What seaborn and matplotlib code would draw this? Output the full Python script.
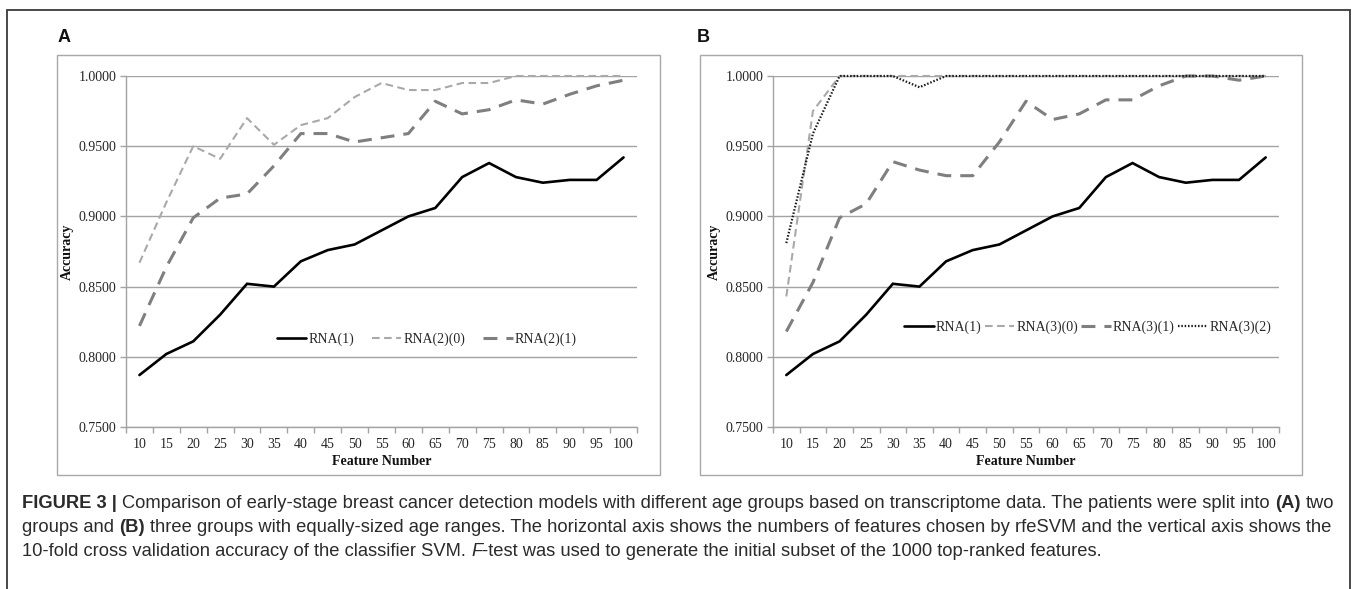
import numpy as np
import pandas as pd
import seaborn as sns
import matplotlib
matplotlib.use("Agg")
import matplotlib.pyplot as plt
from matplotlib.patches import Rectangle
from matplotlib.ticker import FixedLocator, FuncFormatter
from matplotlib import font_manager

# ---------------- data ----------------
features = [10, 15, 20, 25, 30, 35, 40, 45, 50, 55, 60, 65, 70, 75, 80, 85, 90, 95, 100]

rna1 = [0.787, 0.802, 0.811, 0.830, 0.852, 0.850, 0.868, 0.876, 0.880, 0.890,
        0.900, 0.906, 0.928, 0.938, 0.928, 0.924, 0.926, 0.926, 0.942]

rna2_0 = [0.867, 0.910, 0.950, 0.941, 0.970, 0.951, 0.965, 0.970, 0.985, 0.995,
          0.990, 0.990, 0.995, 0.995, 1.000, 1.000, 1.000, 1.000, 1.000]
rna2_1 = [0.822, 0.864, 0.899, 0.913, 0.916, 0.936, 0.959, 0.959, 0.953, 0.956,
          0.959, 0.982, 0.973, 0.976, 0.983, 0.980, 0.987, 0.993, 0.997]

rna3_0 = [0.843, 0.975, 1.000, 1.000, 1.000, 1.000, 1.000, 1.000, 1.000, 1.000,
          1.000, 1.000, 1.000, 1.000, 1.000, 1.000, 1.000, 1.000, 1.000]
rna3_1 = [0.818, 0.853, 0.899, 0.909, 0.939, 0.933, 0.929, 0.929, 0.953, 0.982,
          0.969, 0.973, 0.983, 0.983, 0.993, 1.000, 1.000, 0.997, 1.000]
rna3_2 = [0.881, 0.959, 1.000, 1.000, 1.000, 0.992, 1.000, 1.000, 1.000, 1.000,
          1.000, 1.000, 1.000, 1.000, 1.000, 1.000, 1.000, 1.000, 1.000]

y_ticks = [0.75, 0.80, 0.85, 0.90, 0.95, 1.00]

panel_a_names = ["RNA(1)", "RNA(2)(0)", "RNA(2)(1)"]
panel_a_values = [rna1, rna2_0, rna2_1]
panel_b_names = ["RNA(1)", "RNA(3)(0)", "RNA(3)(1)", "RNA(3)(2)"]
panel_b_values = [rna1, rna3_0, rna3_1, rna3_2]

# ---------------- styling ----------------
sns.set_theme(style="white")
plt.rcParams["font.family"] = ["Liberation Serif", "DejaVu Serif"]
plt.rcParams["lines.scale_dashes"] = False

# line look per series role: (color, width in pt, dash pattern)
SOLID = ("#000000", 1.9, "")
LIGHT = ("#a9a9a9", 1.5, (5.5, 3.2))
DARK = ("#7f7f7f", 2.2, (10.0, 6.5))
DOT = ("#1a1a1a", 1.6, (1.1, 1.3))
roles = {"RNA(1)": SOLID, "RNA(2)(0)": LIGHT, "RNA(2)(1)": DARK,
         "RNA(3)(0)": LIGHT, "RNA(3)(1)": DARK, "RNA(3)(2)": DOT}

GRID = "#a3a3a3"
TICKTXT = "#262626"

W, H = 1357, 589
fig = plt.figure(figsize=(W / 100, H / 100), dpi=100)


def fx(px):
    return px / W


def fy(py):
    return 1 - py / H


def add_axes_px(x0, x1, y_top, y_bot):
    return fig.add_axes([fx(x0), fy(y_bot), (x1 - x0) / W, (y_bot - y_top) / H])


def draw_panel(ax, names, values, legend_xy, colspacing):
    frames = []
    for name, vals in zip(names, values):
        frames.append(pd.DataFrame({"pos": np.arange(len(features)),
                                    "acc": vals, "series": name}))
    df = pd.concat(frames, ignore_index=True)
    sns.lineplot(data=df, x="pos", y="acc", hue="series", style="series",
                 size="series", hue_order=names, style_order=names, size_order=names,
                 palette={n: roles[n][0] for n in names},
                 dashes={n: roles[n][2] for n in names},
                 sizes={n: roles[n][1] for n in names},
                 markers=False, legend=False, ax=ax, estimator=None, sort=False)
    lines = list(ax.get_lines())
    # later series sit on top of the ones listed first; the solid line stays on top
    for i, ln in enumerate(lines):
        ln.set_clip_on(False)
        ln.set_dash_capstyle("butt")
        ln.set_solid_joinstyle("miter")
        ln.set_zorder(4 if i == 0 else 3 + i * 0.1)

    ax.set_xlim(-0.5, len(features) - 0.5)
    ax.set_ylim(0.75, 1.0)
    ax.xaxis.set_major_locator(FixedLocator(np.arange(len(features))))
    ax.xaxis.set_major_formatter(FuncFormatter(lambda v, p: str(features[int(round(v))])))
    ax.xaxis.set_minor_locator(FixedLocator(np.arange(len(features) + 1) - 0.5))
    ax.yaxis.set_major_locator(FixedLocator(y_ticks))
    ax.yaxis.set_major_formatter(FuncFormatter(lambda v, p: f"{v:.4f}"))
    ax.tick_params(axis="x", which="major", length=0, pad=8, labelsize=10, labelcolor=TICKTXT)
    ax.tick_params(axis="x", which="minor", length=4, width=1, color=GRID, direction="out")
    ax.tick_params(axis="y", which="major", length=4, width=1, color=GRID, direction="out",
                   pad=3, labelsize=10, labelcolor=TICKTXT)
    ax.tick_params(bottom=True, left=True, which="both")
    ax.grid(axis="y", color=GRID, lw=1)
    ax.grid(axis="x", visible=False)
    for s in ["top", "right"]:
        ax.spines[s].set_visible(False)
    for s in ["left", "bottom"]:
        ax.spines[s].set_color(GRID)
        ax.spines[s].set_linewidth(1)
    ax.set_facecolor("none")
    ax.set_ylabel("Accuracy", fontsize=10, fontweight="bold", color="#111111", labelpad=3)
    ax.set_xlabel("Feature Number", fontsize=10, fontweight="bold", color="#111111", labelpad=3)

    ax.legend(handles=lines, labels=names, loc="center", bbox_to_anchor=legend_xy,
              ncol=len(names), frameon=False, fontsize=10, handlelength=2.1,
              handletextpad=0.15, columnspacing=colspacing, borderaxespad=0)


# outer border around the whole figure
fig.patches.append(Rectangle((fx(7), fy(640)), (1350 - 7) / W, (640 - 10) / H,
                             transform=fig.transFigure, fill=False, ec="#3a3a3a",
                             lw=1.3, clip_on=False))
# chart frames
for x0, x1 in [(57, 660), (700, 1302)]:
    fig.patches.append(Rectangle((fx(x0), fy(475)), (x1 - x0) / W, (475 - 55) / H,
                                 transform=fig.transFigure, fill=False, ec="#a8a8a8",
                                 lw=1.0))

ax_a = add_axes_px(126, 637, 76, 427)
ax_b = add_axes_px(773, 1279, 76, 427)
draw_panel(ax_a, panel_a_names, panel_a_values, (0.589, 0.251), 1.3)
draw_panel(ax_b, panel_b_names, panel_b_values, (0.622, 0.285), 0.25)

# panel letters
for x, letter in [(58, "A"), (697, "B")]:
    fig.text(fx(x), fy(38), letter, fontsize=13, fontweight="bold",
             family=["Liberation Sans", "DejaVu Sans"], va="center", ha="left",
             color="#111111")

# ---------------- caption ----------------
available = {f.name for f in font_manager.fontManager.ttflist}
cap_family = "Liberation Sans Narrow" if "Liberation Sans Narrow" in available else "Liberation Sans"
CAPCOL = "#2b2b2b"

caption_lines = [
    [("FIGURE 3 |", "bold", "normal", False),
     ("Comparison of early-stage breast cancer detection models with different age groups "
      "based on transcriptome data. The patients were split into", "normal", "normal", True),
     ("(A)", "bold", "normal", True),
     ("two", "normal", "normal", True)],
    [("groups and", "normal", "normal", False),
     ("(B)", "bold", "normal", True),
     ("three groups with equally-sized age ranges. The horizontal axis shows the numbers of "
      "features chosen by rfeSVM and the vertical axis shows the", "normal", "normal", True)],
    [("10-fold cross validation accuracy of the classifier SVM.", "normal", "normal", False),
     ("F", "normal", "italic", True),
     ("-test was used to generate the initial subset of the 1000 top-ranked features.",
      "normal", "normal", False)],
]

renderer = fig.canvas.get_renderer()


def text_width(s, size, weight="normal", style="normal"):
    t = fig.text(0, 0, s, fontsize=size, fontweight=weight, fontstyle=style,
                 family=[cap_family, "DejaVu Sans"])
    w = t.get_window_extent(renderer).width
    t.remove()
    return w


def line_width(runs, size):
    sw = text_width("x x", size) - text_width("xx", size)
    total = 0.0
    for txt, wt, st, sp in runs:
        if sp:
            total += sw
        total += text_width(txt, size, wt, st)
    return total


base = 13.0
cap_size = base * (1335 - 22) / line_width(caption_lines[0], base)
space_w = text_width("x x", cap_size) - text_width("xx", cap_size)

for y_px, runs in zip([503, 527, 551], caption_lines):
    x_px = 22.0
    for txt, wt, st, sp in runs:
        if sp:
            x_px += space_w
        t = fig.text(fx(x_px), fy(y_px), txt, fontsize=cap_size, fontweight=wt,
                     fontstyle=st, family=[cap_family, "DejaVu Sans"], color=CAPCOL,
                     va="center", ha="left")
        x_px += t.get_window_extent(renderer).width

fig.savefig("out.png", dpi=100, facecolor="white")
